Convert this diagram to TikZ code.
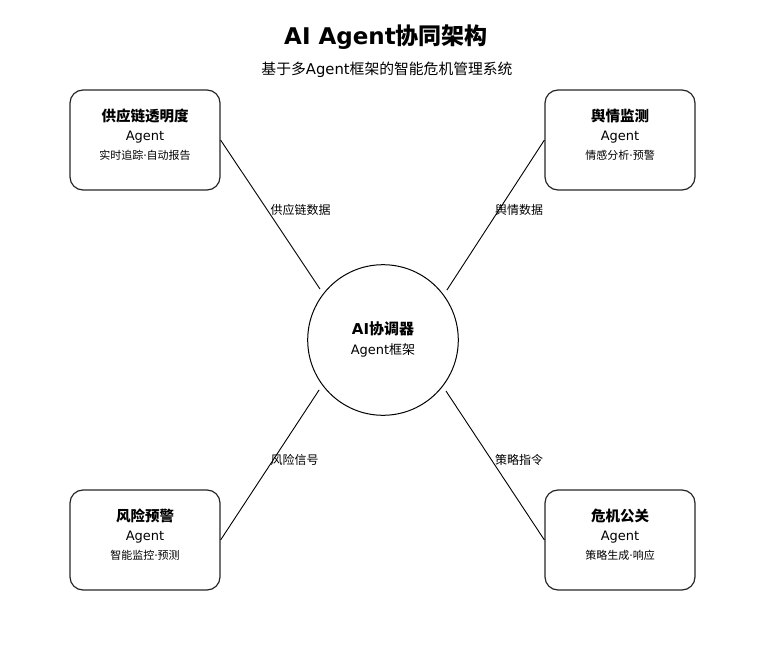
\documentclass[tikz,border=0pt]{standalone}
\usepackage{fontspec}
\setmainfont{DejaVu Sans}
\newfontfamily\cjk{Noto Sans CJK SC}
\newcommand{\fs}[1]{\fontsize{#1pt}{#1pt}\selectfont}
\begin{document}
\begin{tikzpicture}[x=1pt,y=-1pt,
  agentbox/.style={draw=black!85,line width=1.2pt,rounded corners=13pt,minimum width=150pt,minimum height=100pt,inner sep=0pt},
  hubstyle/.style={circle,draw=black,line width=1pt,minimum size=150.6pt,inner sep=0pt,outer sep=5.7pt},
  conn/.style={draw=black,line width=0.9pt},
  btitle/.style={inner sep=0pt,font=\fs{14.5}\bfseries},
  bagent/.style={inner sep=0pt,font=\fs{13}},
  bsub/.style={inner sep=0pt,font=\fs{11}},
  lbl/.style={inner sep=0pt,anchor=west,font=\fs{12}\cjk}]
\useasboundingbox (0,0) rectangle (774,655);
% title
\node[inner sep=0pt,font=\fs{23}\bfseries] (title) at (386,37) {AI Agent{\cjk 协同架构}};
\node[inner sep=0pt,font=\fs{14.8}] (subtitle) at (387,70) {{\cjk 基于多}Agent{\cjk 框架的智能危机管理系统}};
% hub
\node[hubstyle] (hub) at (383,340) {};
\node[inner sep=0pt,font=\fs{15}\bfseries] (hubt) at (383,328.5) {AI{\cjk 协调器}};
\node[inner sep=0pt,font=\fs{13}] (hubs) at (383,350) {Agent{\cjk 框架}};
% boxes
\node[agentbox] (sup) at (145,140) {};
\node[btitle] (supt) at (145,116) {\cjk 供应链透明度};
\node[bagent] (supa) at (145,137) {Agent};
\node[bsub] (sups) at (145,155.5) {{\cjk 实时追踪}·{\cjk 自动报告}};

\node[agentbox] (pub) at (620,140) {};
\node[btitle] (pubt) at (620,116) {\cjk 舆情监测};
\node[bagent] (puba) at (620,137) {Agent};
\node[bsub] (pubs) at (620,155.5) {{\cjk 情感分析}·{\cjk 预警}};

\node[agentbox] (risk) at (145,540) {};
\node[btitle] (riskt) at (145,516) {\cjk 风险预警};
\node[bagent] (riska) at (145,537) {Agent};
\node[bsub] (risks) at (145,555.5) {{\cjk 智能监控}·{\cjk 预测}};

\node[agentbox] (pr) at (620,540) {};
\node[btitle] (prt) at (620,516) {\cjk 危机公关};
\node[bagent] (pra) at (620,537) {Agent};
\node[bsub] (prs) at (620,555.5) {{\cjk 策略生成}·{\cjk 响应}};
% connectors
\draw[conn] (sup.east) -- (hub.141.6);
\draw[conn] (pub.west) -- (hub.38.9);
\draw[conn] (risk.east) -- (hub.218.4);
\draw[conn] (pr.west) -- (hub.321.1);
% labels
\node[lbl] (l1) at (270.5,210) {供应链数据};
\node[lbl] (l2) at (495,210) {舆情数据};
\node[lbl] (l3) at (270.5,460) {风险信号};
\node[lbl] (l4) at (495,460) {策略指令};
\end{tikzpicture}
\end{document}
